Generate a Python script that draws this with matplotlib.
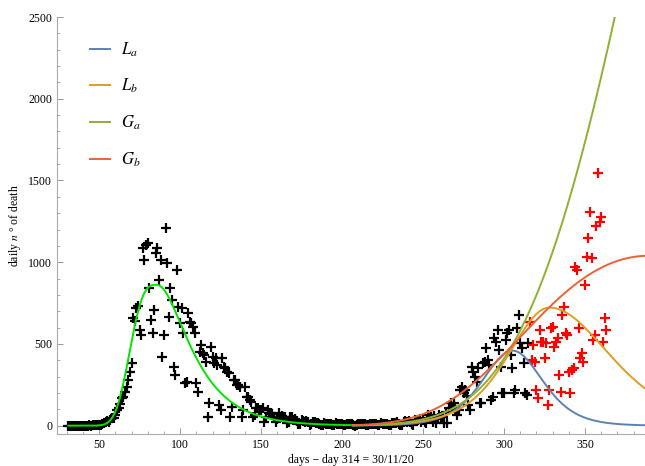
import numpy as np
import matplotlib.pyplot as plt

plt.rcParams['font.family'] = ['Liberation Serif', 'DejaVu Serif']
plt.rcParams['mathtext.fontset'] = 'stix'

# daily deaths, one value per day starting at day 31
deaths_start = [0] * 13 + [1, 0, 2, 1, 3, 5, 2, 6,
                           10, 14, 20, 28, 24, 35, 47, 45, 65, 96]
deaths_peak = [106, 133, 169, 177, 208, 239, 280, 330, 381, 657,
               642, 718, 732, 585, 555, 1089, 1014, 1106, 1116, 840,
               647, 567, 708, 1055, 1085, 891, 1014, 422, 555, 1208,
               993, 667, 842, 769, 361, 310]
deaths_decline = [953, 728, 626, 718, 565, 259, 269, 687, 637, 626,
                  606, 565, 259, 208, 453, 494, 443, 432, 392, 55,
                  137, 484, 422, 381, 412, 371, 127, 96, 412, 361,
                  351, 330, 320, 55, 116, 280, 279, 249, 249, 239,
                  55, 96, 239, 177, 177, 157, 147, 55, 65, 106,
                  106, 96, 96, 106, 25, 55, 96, 75, 75, 70,
                  55, 25, 40]
deaths_summer = [75, 55, 60, 45, 55, 15, 20, 50, 55, 35,
                 40, 30, 10, 8, 35, 30, 25, 30, 20, 5,
                 8, 25, 20, 18, 15, 12, 2, 3, 15, 12,
                 10, 8, 12, 1, 2, 14, 10, 8, 12, 8,
                 1, 2, 12, 10, 10, 8, 6, 0, 2, 10,
                 12, 8, 10, 12, 2, 1, 10, 12, 10, 8,
                 12, 2, 1, 14, 10, 12, 10, 9, 3, 3,
                 16, 18, 14, 20, 12, 4, 3, 24, 28, 22,
                 30, 25, 8, 6, 35, 30, 35, 40, 25]
deaths_autumn = [35, 20, 15, 65, 45, 55, 25, 60, 14, 45,
                 65, 55, 50, 15, 85, 15, 106, 137, 106, 137,
                 100, 65, 96, 218, 239, 198, 218, 180, 126, 96,
                 361, 330, 300, 269, 351, 137, 137, 381, 392, 473,
                 402, 371, 157, 177, 534, 514, 585, 463, 361, 198,
                 198, 524, 565, 585, 433, 351, 198, 218, 596, 677,
                 504, 473, 381, 198, 188, 505]
# days after the fit window (from day 316)
deaths_new = [636, 402, 494, 392, 218, 167, 585, 514, 514, 412,
              504, 126, 218, 596, 606, 483, 514, 534, 310, 208,
              677, 728, 565, 555, 330, 198, 341, 351, 973, 953,
              596, 412, 443, 392, 861, 1034, 1146, 1310, 1024, 524,
              555, 1222, 1544, 1248, 1279, 514, 657, 585]

first_day = 31
new_first_day = 316

# first wave fit
fw_peak, fw_day, fw_rise, fw_tail, fw_knee = 862, 85.5, 19.3, 0.8, 15.0
# second wave fits: logistic (L) and Gompertz (G)
la_peak, la_day, la_s = 459, 305.2, 12.5
lb_peak, lb_day, lb_s_left, lb_s_right = 722, 328, 17, 25
ga_scale, ga_day, ga_b = 19590, 515, 0.008
gb_peak, gb_day, gb_b = 1040, 390, 0.012


def first_wave(t):
    d = t - fw_day
    left = np.exp(-(np.abs(d) / fw_rise) ** 3)
    right = np.exp(-fw_tail * (np.sqrt(1 + (d / fw_knee) ** 2) - 1))
    return fw_peak * np.where(d < 0, left, right)


def logistic_rate(t, peak, day, s):
    return peak / np.cosh((t - day) / (2 * s)) ** 2


def gompertz_rate(t, scale, day, b):
    u = b * (t - day)
    return scale * np.exp(-u - np.exp(-u))


def main():
    deaths = deaths_start + deaths_peak + deaths_decline + deaths_summer + deaths_autumn
    days = np.arange(first_day, first_day + len(deaths))
    days_new = np.arange(new_first_day, new_first_day + len(deaths_new))

    fig = plt.figure(figsize=(6.45, 4.66), dpi=100)
    ax = fig.add_axes([57 / 645, 32 / 466, 588 / 645, 417 / 466])

    ax.plot(days, deaths, '+', color='black', ms=7.5, mew=1.6, zorder=2)
    ax.plot(days_new, deaths_new, '+', color='red', ms=7.5, mew=1.6, zorder=2)

    t1 = np.linspace(first_day, 207, 400)
    ax.plot(t1, first_wave(t1), color='#00e600', lw=1.4, zorder=3)

    t2 = np.linspace(207, 400, 500)
    lb = np.where(t2 < lb_day,
                  logistic_rate(t2, lb_peak, lb_day, lb_s_left),
                  logistic_rate(t2, lb_peak, lb_day, lb_s_right))
    ax.plot(t2, logistic_rate(t2, la_peak, la_day, la_s), color='#5e81b5',
            lw=1.4, label='$L_a$', zorder=3)
    ax.plot(t2, lb, color='#e19c24', lw=1.4, label='$L_b$', zorder=3)
    ax.plot(t2, gompertz_rate(t2, ga_scale, ga_day, ga_b), color='#8fb032',
            lw=1.4, label='$G_a$', zorder=3)
    gb = gb_peak * np.exp(1) * gompertz_rate(t2, 1.0, gb_day, gb_b)
    ax.plot(t2, gb, color='#eb6235', lw=1.4, label='$G_b$', zorder=4)

    ax.set_xlim(24, 387)
    ax.set_ylim(-51, 2500)
    ax.set_xticks(np.arange(50, 351, 50))
    ax.set_xticks(np.arange(30, 387, 10), minor=True)
    ax.set_yticks(np.arange(0, 2501, 500))
    ax.set_yticks(np.arange(0, 2501, 100), minor=True)
    ax.tick_params(which='both', direction='in', color='#999999', labelsize=8.5)
    ax.tick_params(which='major', length=4, width=0.7)
    ax.tick_params(which='minor', length=2.2, width=0.6)
    for side in ['top', 'right']:
        ax.spines[side].set_visible(False)
    for side in ['left', 'bottom']:
        ax.spines[side].set_color('#aaaaaa')
        ax.spines[side].set_linewidth(0.8)

    ax.set_xlabel('days − day 314 = 30/11/20', fontsize=8.5, labelpad=2)
    ax.set_ylabel('daily $n$ ° of death', fontsize=8.5, labelpad=4)

    ax.legend(loc='upper left', bbox_to_anchor=(0.03, 0.98), frameon=False,
              fontsize=12, handlelength=1.2, handletextpad=0.7, labelspacing=1.1)

    fig.savefig('out.png', dpi=100)


if __name__ == '__main__':
    main()
